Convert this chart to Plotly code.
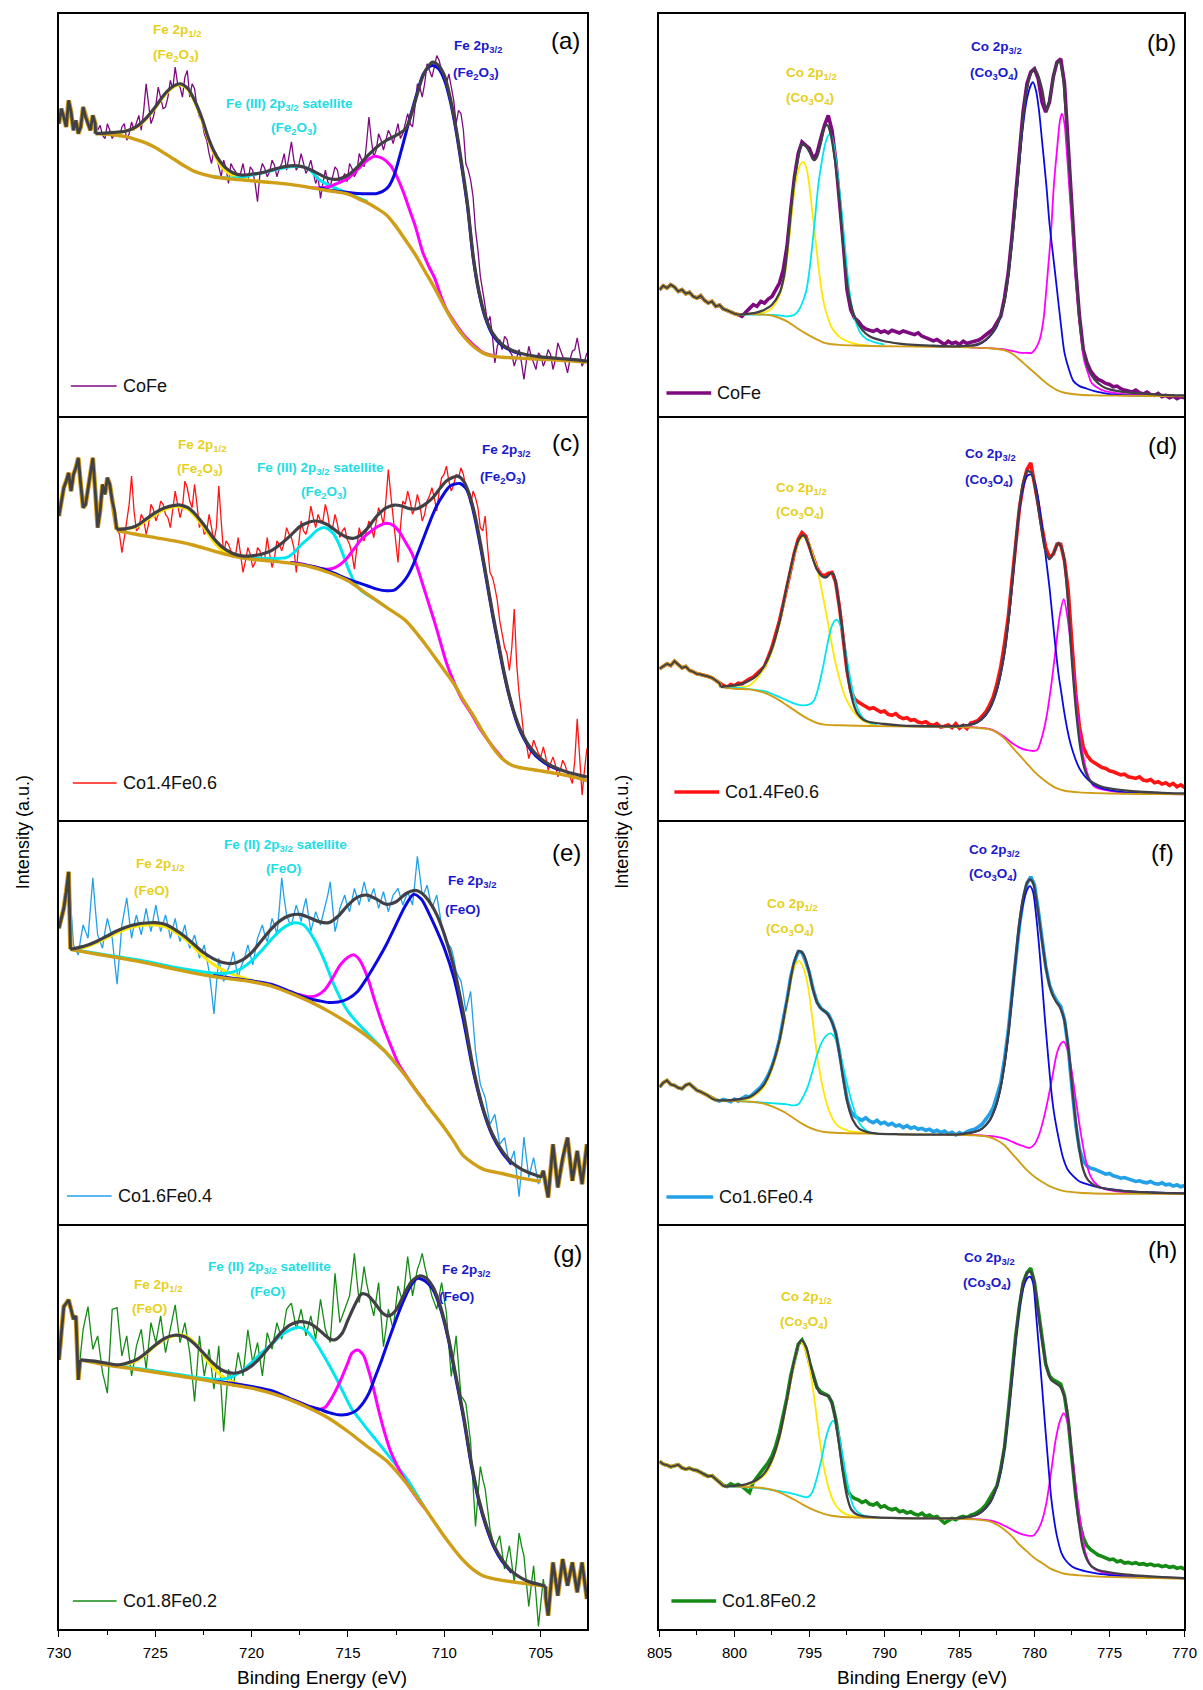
import numpy as np
import plotly.graph_objects as go

W, H = 1203, 1690

# ---------------- energy axes ----------------
FE_RANGE = [730.0, 702.6]
CO_RANGE = [805.0, 770.0]
FE_TICKS = [730, 725, 720, 715, 710, 705]
CO_TICKS = [805, 800, 795, 790, 785, 780, 775, 770]

# ---------------- raw spectra (intensity, a.u.) ----------------
# Fe 2p : 730 -> 702.6 eV; *_raw on the main grid, *_mid on the points halfway between
a_raw = [880, 900, 950, 860, 850, 930, 880, 905, 860, 845, 880, 835, 855, 870, 830, 885,
         880, 860, 1000, 880, 935, 960, 930, 1010, 1050, 990, 1020, 960, 985, 900, 850, 790,
         800, 750, 770, 700, 745, 710, 760, 705, 740, 645, 760, 720, 770, 720, 760, 740,
         825, 740, 790, 730, 770, 700, 655, 740, 690, 750, 700, 730, 760, 720, 790, 750,
         900, 780, 850, 800, 860, 820, 880, 850, 910, 870, 1000, 960, 1060, 1020, 1085, 1040,
         1000, 990, 880, 910, 760, 710, 560, 420, 330, 300, 160, 230, 240, 195, 150, 200,
         110, 210, 160, 190, 150, 200, 140, 220, 180, 130, 195, 235, 150, 190]
a_mid = [925, 870, 915, 890, 870, 900, 860, 880, 875, 835, 860, 850, 840, 880, 850, 860,
         905, 920, 930, 900, 990, 925, 960, 985, 1000, 960, 1040, 1000, 930, 890, 830, 760,
         790, 720, 745, 760, 735, 730, 720, 750, 700, 730, 745, 735, 755, 745, 790, 780,
         770, 755, 760, 745, 735, 720, 700, 705, 720, 740, 715, 705, 745, 735, 770, 820,
         830, 800, 830, 830, 845, 850, 835, 880, 880, 930, 990, 1000, 1040, 1050, 1070, 1010,
         1030, 950, 920, 860, 740, 660, 500, 380, 280, 240, 210, 200, 230, 185, 175, 160,
         165, 180, 140, 180, 170, 185, 170, 200, 160, 170, 200, 190, 165]
c_raw = [915, 1000, 1045, 1040, 1090, 940, 1000, 1090, 880, 1010, 1030, 960, 875, 805, 900, 1035,
         870, 920, 860, 950, 900, 960, 920, 880, 990, 910, 1020, 960, 1010, 880, 860, 920,
         840, 1005, 800, 830, 790, 850, 745, 820, 760, 820, 780, 850, 760, 840, 810, 880,
         850, 745, 900, 860, 945, 880, 900, 950, 870, 920, 850, 880, 830, 755, 880, 840,
         900, 850, 940, 890, 1055, 910, 775, 960, 990, 920, 980, 900, 960, 1000, 930, 1030,
         1065, 990, 1040, 1060, 1000, 950, 970, 880, 915, 745, 700, 600, 520, 450, 635, 380,
         250, 185, 240, 200, 220, 150, 190, 130, 180, 140, 110, 305, 75, 215]
c_mid = [960, 1020, 990, 1060, 1010, 950, 1040, 990, 930, 980, 1010, 930, 860, 850, 950, 930,
         880, 905, 890, 935, 920, 950, 910, 940, 950, 940, 1000, 940, 950, 900, 870, 880,
         880, 900, 840, 810, 800, 800, 780, 800, 775, 810, 790, 800, 790, 830, 835, 860,
         820, 830, 870, 890, 910, 920, 900, 920, 880, 890, 870, 845, 800, 820, 850, 870,
         880, 900, 920, 960, 980, 860, 880, 950, 960, 940, 950, 920, 975, 970, 990, 1040,
         1020, 1010, 1030, 1040, 980, 990, 940, 870, 820, 730, 660, 560, 500, 520, 470, 320,
         230, 210, 220, 190, 190, 170, 165, 150, 165, 130, 180, 190, 150]
e_raw = [890, 950, 1060, 840, 810, 900, 860, 1042, 870, 830, 920, 860, 722, 900, 982, 860,
         930, 870, 950, 880, 960, 880, 930, 860, 920, 850, 900, 830, 870, 800, 840, 760,
         632, 800, 730, 770, 820, 740, 790, 840, 780, 860, 900, 850, 920, 870, 1042, 930,
         900, 960, 910, 980, 880, 940, 900, 960, 1030, 880, 950, 990, 940, 1010, 960, 1030,
         970, 1010, 950, 1000, 940, 990, 1010, 960, 1000, 960, 1107, 990, 1020, 950, 990, 900,
         852, 830, 760, 732, 640, 700, 520, 420, 380, 300, 330, 240, 260, 180, 220, 82,
         262, 140, 200, 120, 160, 80, 240, 110, 200, 260, 130, 220, 120, 240]
e_mid = [920, 1000, 950, 825, 860, 880, 950, 950, 850, 880, 890, 790, 810, 940, 920, 900,
         900, 910, 910, 920, 920, 905, 900, 890, 880, 875, 860, 850, 840, 820, 800, 700,
         720, 760, 750, 790, 780, 770, 810, 810, 820, 880, 870, 880, 900, 950, 980, 910,
         930, 935, 950, 930, 910, 920, 930, 990, 960, 910, 970, 960, 975, 985, 995, 1000,
         990, 980, 975, 970, 965, 1000, 985, 980, 980, 1030, 1050, 1000, 985, 970, 945, 880,
         840, 800, 745, 690, 670, 610, 470, 400, 340, 315, 285, 250, 220, 200, 150, 170,
         200, 170, 160, 140, 120, 160, 175, 155, 230, 195, 175, 170, 180]
g_raw = [808, 968, 988, 930, 748, 900, 968, 840, 880, 770, 708, 960, 965, 820, 880, 760,
         850, 900, 780, 920, 860, 940, 830, 900, 973, 860, 920, 830, 683, 880, 760, 840,
         720, 850, 593, 780, 728, 830, 760, 898, 800, 860, 760, 890, 840, 920, 870, 960,
         978, 900, 960, 880, 940, 870, 990, 900, 860, 1068, 920, 960, 1000, 1128, 980, 1088,
         1000, 940, 1040, 848, 960, 900, 1030, 980, 1118, 1000, 1080, 1128, 1060, 1000, 960, 1040,
         948, 758, 880, 700, 678, 560, 308, 488, 420, 300, 240, 280, 180, 250, 140, 288,
         220, 68, 190, 8, 150, 40, 200, 100, 210, 130, 200, 110, 200, 90]
g_mid = [890, 978, 960, 940, 830, 935, 900, 860, 825, 740, 835, 962, 890, 850, 820, 800,
         875, 840, 850, 890, 900, 885, 865, 935, 915, 890, 875, 760, 780, 820, 800, 780,
         785, 720, 690, 755, 780, 795, 830, 850, 830, 810, 825, 865, 880, 895, 915, 970,
         940, 930, 920, 910, 905, 930, 945, 880, 960, 990, 940, 980, 1060, 1050, 1030, 1040,
         970, 990, 940, 900, 930, 965, 1005, 1050, 1060, 1040, 1100, 1090, 1030, 980, 1000, 995,
         850, 820, 790, 690, 620, 430, 400, 450, 360, 270, 260, 230, 215, 195, 210, 250,
         140, 130, 100, 80, 95, 120, 150, 155, 170, 165, 155, 155, 145]

# Co 2p : 805 -> 770 eV, evenly spaced
b_raw = [380, 392, 385, 395, 388, 375, 380, 368, 372, 360, 355, 362, 348, 340, 345, 330,
         334, 322, 318, 312, 308, 305, 300, 312, 322, 335, 330, 345, 340, 352, 360, 378,
         400, 440, 510, 620, 720, 790, 825, 815, 805, 775, 790, 835, 875, 905, 860, 770,
         650, 520, 380, 320, 295, 285, 270, 262, 258, 255, 260, 252, 256, 250, 258, 254,
         250, 256, 252, 248, 245, 250, 240, 236, 232, 226, 230, 222, 215, 225, 218, 222,
         215, 225, 218, 222, 226, 228, 235, 245, 255, 262, 282, 300, 355, 430, 540, 660,
         780, 920, 1000, 1035, 1045, 1015, 945, 915, 945, 1020, 1065, 1075, 1000, 800, 610, 440,
         300, 200, 160, 135, 120, 110, 105, 98, 95, 88, 90, 82, 78, 75, 72, 78,
         70, 66, 72, 64, 62, 68, 58, 62, 55, 60, 52, 58, 55]
d_raw = [455, 462, 470, 465, 478, 468, 458, 462, 450, 446, 440, 438, 436, 432, 428, 420,
         412, 405, 400, 408, 404, 412, 410, 418, 425, 430, 440, 452, 462, 490, 520, 560,
         600, 650, 705, 760, 805, 845, 865, 855, 820, 790, 758, 740, 735, 742, 745, 715,
         640, 545, 450, 390, 365, 355, 348, 340, 335, 338, 330, 325, 328, 318, 315, 320,
         310, 305, 308, 300, 302, 295, 292, 296, 288, 285, 290, 280, 282, 286, 278, 290,
         276, 285, 275, 292, 295, 300, 312, 325, 345, 370, 410, 460, 530, 610, 720, 840,
         940, 1010, 1055, 1075, 1015, 950, 880, 820, 790, 800, 830, 830, 780, 690, 530, 380,
         280, 220, 195, 180, 172, 165, 158, 155, 148, 145, 140, 136, 138, 130, 128, 125,
         130, 120, 118, 122, 112, 115, 108, 112, 104, 110, 100, 106, 98]
f_raw = [412, 425, 432, 420, 417, 410, 407, 418, 422, 412, 402, 398, 392, 386, 377, 374,
         370, 375, 372, 368, 376, 370, 378, 385, 382, 392, 405, 412, 428, 448, 475, 510,
         555, 610, 675, 745, 790, 820, 818, 790, 755, 705, 668, 650, 640, 632, 610, 575,
         515, 440, 375, 340, 325, 318, 312, 320, 310, 305, 312, 302, 306, 298, 303, 295,
         298, 290, 296, 288, 292, 285, 288, 282, 285, 278, 282, 275, 280, 272, 276, 268,
         275, 270, 278, 282, 285, 292, 300, 315, 330, 350, 385, 425, 495, 580, 690, 800,
         900, 975, 1025, 1045, 1020, 945, 860, 775, 720, 690, 670, 655, 615, 530, 410, 300,
         225, 190, 175, 168, 165, 160, 155, 150, 152, 145, 142, 138, 140, 135, 132, 128,
         130, 126, 124, 128, 122, 120, 124, 118, 120, 114, 118, 112, 116]
h_raw = [503, 495, 492, 487, 490, 493, 484, 480, 483, 478, 476, 470, 462, 458, 460, 450,
         443, 432, 428, 436, 430, 434, 428, 420, 410, 440, 455, 470, 485, 500, 520, 550,
         590, 640, 695, 760, 810, 855, 868, 845, 800, 760, 725, 712, 705, 700, 680, 630,
         560, 480, 420, 400, 392, 388, 380, 385, 375, 372, 378, 366, 370, 362, 358, 362,
         352, 355, 348, 352, 345, 342, 348, 338, 342, 335, 338, 328, 318, 325, 332, 328,
         335, 338, 335, 342, 345, 352, 360, 372, 390, 408, 430, 480, 545, 650, 770, 880,
         970, 1040, 1070, 1083, 1040, 960, 870, 795, 760, 748, 742, 735, 700, 625, 510, 400,
         320, 275, 250, 238, 230, 222, 218, 212, 208, 210, 202, 205, 198, 200, 196, 199,
         194, 196, 192, 195, 190, 192, 187, 190, 185, 188, 182, 185, 180]

# ---------------- fitted curves (energy, intensity) ----------------
a_fit = [(728.1,850),(727.5,852),(726.5,858),(726,870),(725.5,895),(725,930),(724.5,970),(724,995),
         (723.7,1000),(723.3,985),(723,955),(722.6,900),(722.2,830),(721.8,780),(721.4,750),(721,733),
         (720.5,725),(720,728),(719.5,732),(719,740),(718.5,748),(718,753),(717.5,752),(717,743),
         (716.5,728),(716,715),(715.5,713),(715,725),(714.5,750),(714,782),(713.5,810),(713,830),
         (712.5,845),(712,865),(711.7,910),(711.4,970),(711.1,1025),(710.8,1055),(710.6,1065),(710.3,1055),
         (710,1025),(709.7,960),(709.4,870),(709.1,760),(708.8,640),(708.5,480),(708.2,375),(707.9,305),
         (707.5,250),(707,215),(706.5,198),(706,188),(705.5,182),(705,178),(704,173),(703,168),(702.6,165)]
a_bg = [(728.1,850),(727.5,848),(727,845),(726.5,840),(726,832),(725.5,822),(725,808),(724.5,790),
        (724,772),(723.5,753),(723,737),(722.5,727),(722,720),(721,713),(720,708),(719,703),(718,697),
        (717,688),(716,678),(715,668),(714.5,655),(714,642),(713.5,625),(713,605),(712.5,570),(712,528),
        (711.5,485),(711,435),(710.5,385),(710,330),(709.5,280),(709,240),(708.5,210),(708,190),
        (707.5,180),(707,177),(706,174),(705,171),(704,168),(703,164),(702.6,162)]
a_yel = [(728.1,850),(727.5,850),(727,852),(726.5,858),(726,868),(725.5,892),(725,927),(724.5,966),
         (724,992),(723.7,997),(723.3,982),(723,951),(722.6,894),(722.2,824),(721.8,772),(721.4,740),
         (721,724),(720.5,715),(720,709),(719.5,705),(719,703)]
a_cyan = [(722,720),(721,716),(720.5,719),(720,725),(719.5,731),(719,738),(718.5,745),(718,750),
          (717.7,752),(717.3,750),(717,742),(716.5,712),(716,695),(715.5,682),(715,670),(714.5,658),(714,645)]
a_mag = [(717,688),(716.5,686),(716,690),(715.5,702),(715,715),(714.5,742),(714,770),(713.6,782),
         (713.2,775),(712.8,755),(712.5,725),(712.1,670),(711.8,620),(711.5,570),(711.1,490),(710.8,450),
         (710.5,415),(710.2,365),(709.9,322),(709.5,285),(709,245),(708.5,215),(708,192),(707.5,182)]
a_blue = [(716.5,688),(716,680),(715.5,676),(715,673),(714.5,670),(714,669),(713.5,670),(713.2,676),
          (712.9,690),(712.6,725),(712.3,785),(712,850),(711.7,915),(711.4,975),(711.1,1028),(710.8,1050),
          (710.6,1055),(710.3,1045),(710,1012),(709.7,950),(709.4,862),(709.1,752),(708.8,632),(708.5,475),
          (708.2,370),(707.9,300),(707.5,245),(707,212),(706.5,196),(706,186)]

c_fit = [(727,875),(726.5,877),(726,885),(725.5,905),(725,925),(724.5,940),(724,947),(723.7,948),
         (723.3,940),(723,925),(722.5,890),(722,850),(721.5,820),(721,803),(720.5,795),(720,795),
         (719.5,800),(719,810),(718.5,830),(718,855),(717.5,883),(717,897),(716.7,900),(716.4,897),
         (716,887),(715.5,865),(715,850),(714.7,848),(714.4,855),(714,877),(713.5,915),(713,940),
         (712.6,948),(712.2,945),(711.8,937),(711.4,937),(711,950),(710.6,970),(710.2,1000),(709.9,1020),
         (709.6,1030),(709.3,1035),(709,1020),(708.7,980),(708.4,915),(708.1,825),(707.8,725),(707.5,625),
         (707.2,535),(706.9,445),(706.6,370),(706.3,310),(706,265),(705.5,215),(705,185),(704.5,165),
         (704,152),(703.5,142),(703,135),(702.6,130)]
c_bg = [(727,872),(726,860),(725,850),(724,840),(723,827),(722,810),(721,795),(720,785),(719,780),
        (718,773),(717,763),(716,745),(715,720),(714,680),(713,640),(712,600),(711,530),(710,450),
        (709.5,410),(709,360),(708.5,315),(708,265),(707.5,220),(707,185),(706.5,165),(706,157),
        (705,148),(704,138),(703,125),(702.6,118)]
c_yel = [(727,875),(726,882),(725.5,900),(725,920),(724.5,935),(724,943),(723.7,943),(723.3,935),
         (723,918),(722.5,882),(722,840),(721.5,810),(721,795),(720.5,790),(720,785),(719.5,782),(719,780)]
c_cyan = [(721,795),(720,790),(719.5,788),(719,787),(718.5,788),(718.2,790),(717.8,805),(717.4,830),
          (717,850),(716.6,872),(716.2,880),(715.8,865),(715.5,835),(715.2,790),(714.9,745),(714.6,710),
          (714.3,690),(714,678),(713.5,660),(713,640)]
c_mag = [(718,775),(717.5,772),(717,765),(716.5,758),(716.1,755),(715.8,757),(715.5,765),(715.1,785),
         (714.7,815),(714.3,845),(713.9,865),(713.5,882),(713,893),(712.6,885),(712.3,865),(712,835),
         (711.7,805),(711.4,760),(711.1,705),(710.8,650),(710.5,595),(710.2,535),(709.9,475),(709.5,415),
         (709.1,365),(708.6,320),(708.1,270),(707.5,222),(707,187)]
c_blue = [(718,775),(717,765),(716,750),(715,725),(714,705),(713.5,695),(713,690),(712.6,692),
          (712.2,712),(711.9,735),(711.6,770),(711.3,815),(711,860),(710.7,905),(710.4,945),(710.1,975),
          (709.7,1005),(709.2,1013),(708.9,1000),(708.7,975),(708.4,905),(708.1,815),(707.8,718),(707.5,618),
          (707.2,528),(706.9,440),(706.6,365),(706.3,305),(706,260),(705.5,210),(705,180),(704.5,162),(704,150)]

e_fit = [(729.4,827),(729,832),(728.5,840),(728,852),(727.5,867),(727,882),(726.5,894),(726,902),
         (725.5,906),(725,907),(724.5,902),(724,887),(723.5,867),(723,842),(722.5,817),(722,799),
         (721.5,787),(721,784),(720.5,794),(720,817),(719.5,852),(719,887),(718.5,914),(718,929),
         (717.5,932),(717,922),(716.5,910),(716,907),(715.5,927),(715,960),(714.5,984),(714,990),
         (713.5,977),(713,962),(712.5,970),(712,994),(711.5,1004),(711.2,997),(710.8,972),(710.4,932),
         (710,872),(709.5,772),(709,632),(708.5,470),(708,350),(707.5,270),(707,220),(706.5,185),
         (706,165),(705.5,152),(705,142)]
e_bg = [(729.4,827),(729,822),(728,812),(727,802),(726,792),(725,780),(724,767),(723,755),(722,745),
        (721,737),(720,729),(719,717),(718,695),(717,670),(716,640),(715,605),(714,565),(713,515),
        (712,445),(711,365),(710,290),(709.5,248),(709,205),(708,165),(707,152),(706,138),(705,128)]
e_yel = [(729.4,827),(729,828),(728.5,836),(728,848),(727.5,862),(727,876),(726.5,888),(726,896),
         (725.5,900),(725,900),(724.5,895),(724,880),(723.5,860),(723,833),(722.5,805),(722,782),
         (721.5,765),(721,752),(720.5,742),(720,733),(719.5,725),(719,717)]
e_cyan = [(729.4,827),(728,814),(727,805),(726,796),(725,785),(724,773),(723,763),(722,755),
          (721.5,754),(721,758),(720.5,770),(720,792),(719.5,822),(719,855),(718.5,885),(718,903),
          (717.7,907),(717.3,900),(717,880),(716.6,840),(716.2,790),(715.8,730),(715.4,680),(715,640),
          (714.5,605),(714,575),(713.5,545),(713,515),(712.5,480),(712,448)]
e_mag = [(718,697),(717.5,690),(717,684),(716.6,688),(716.2,705),(715.8,740),(715.4,780),(715,803),
         (714.7,810),(714.4,795),(714,745),(713.6,670),(713.2,600),(712.8,540),(712.4,485),(712,448),
         (711.5,405),(711,368)]
e_blue = [(722,748),(721,740),(720,732),(719,722),(718,700),(717.5,688),(717,678),(716.5,672),
          (716,667),(715.5,668),(715,678),(714.5,700),(714,742),(713.5,790),(713,842),(712.5,902),
          (712,960),(711.6,992),(711.2,978),(710.8,935),(710.4,885),(710,830),(709.5,740),(709,610),
          (708.5,460),(708,345),(707.5,265),(707,215),(706.5,180)]

g_fit = [(728.9,808),(728,803),(727.5,798),(727,793),(726.5,798),(726,808),(725.5,828),(725,853),
         (724.5,873),(724,882),(723.5,878),(723,858),(722.5,828),(722,798),(721.5,776),(721,768),
         (720.5,773),(720,790),(719.5,818),(719,853),(718.5,888),(718,913),(717.5,923),(717,918),
         (716.5,898),(716,873),(715.7,868),(715.3,888),(715,928),(714.6,978),(714.3,1006),(714,1003),
         (713.6,978),(713.2,948),(712.9,940),(712.5,958),(712.1,1003),(711.7,1043),(711.3,1060),(711,1056),
         (710.6,1028),(710.2,968),(709.8,878),(709.4,760),(709,640),(708.6,500),(708.2,388),(707.8,308),
         (707.4,248),(707,208),(706.5,173),(706,153),(705.5,140),(705,133),(704.75,128)]
g_bg = [(728.9,808),(728,798),(727,788),(726,780),(725,771),(724,762),(723,753),(722,743),(721,733),
        (720,723),(719,708),(718,688),(717,663),(716,633),(715,593),(714,548),(713,505),(712,440),
        (711,362),(710,278),(709,205),(708.5,178),(708,160),(707,146),(706,138),(705,130),(704.75,126)]
g_yel = [(728.9,808),(728,800),(727,792),(726.5,795),(726,805),(725.5,825),(725,850),(724.5,870),
         (724,880),(723.6,883),(723.2,872),(722.8,848),(722.4,815),(722,785),(721.6,762),(721.2,748),
         (720.8,738),(720.4,731),(720,725)]
g_cyan = [(728.9,808),(728,800),(727,791),(726,783),(725,775),(724,766),(723,757),(722,750),
          (721.5,750),(721,758),(720.5,775),(720,800),(719.5,828),(719,853),(718.5,880),(718,898),
          (717.6,906),(717.2,898),(716.8,872),(716.4,835),(716,795),(715.6,752),(715.2,705),(714.8,660),
          (714.4,630),(714,600),(713.5,565),(713,528),(712.5,492),(712,455),(711.5,410),(711,362)]
g_mag = [(718,690),(717.5,680),(717,668),(716.5,660),(716.2,665),(715.9,688),(715.6,720),(715.3,758),
         (715,800),(714.8,828),(714.5,838),(714.2,822),(714,790),(713.7,728),(713.4,655),(713.1,590),
         (712.8,535),(712.4,485),(712,442),(711.6,408),(711.2,376),(711,362)]
g_blue = [(722,745),(721,738),(720,728),(719,716),(718,692),(717.5,680),(717,668),(716.5,660),
          (716,650),(715.5,643),(715,645),(714.6,655),(714.2,680),(713.9,710),(713.6,755),(713.3,800),
          (713,850),(712.7,898),(712.4,945),(712.1,988),(711.8,1025),(711.4,1053),(711,1045),(710.6,1020),
          (710.2,962),(709.8,872),(709.4,752),(709,632),(708.6,492),(708.2,382),(707.8,302),(707.4,243),
          (707,203),(706.5,170)]

b_fit = [(799.7,305),(799.5,306),(799,308),(798.5,312),(798,320),(797.5,335),(797,370),(796.7,420),
         (796.5,490),(796.2,630),(796,710),(795.7,790),(795.5,820),(795.2,810),(795,795),(794.7,770),
         (794.5,780),(794.2,830),(794,870),(793.8,875),(793.6,850),(793.3,770),(793,650),(792.7,490),
         (792.4,370),(792,300),(791.5,260),(791,240),(790,225),(789,218),(788,214),(787,212),(786,210),
         (785,210),(784,214),(783.5,222),(783,240),(782.5,275),(782,345),(781.7,440),(781.4,570),
         (781.1,720),(780.8,880),(780.5,985),(780.2,1035),(780,1045),(779.8,1030),(779.5,985),(779.2,920),
         (778.9,975),(778.6,1050),(778.35,1068),(778.1,1020),(777.9,900),(777.6,690),(777.3,470),(777,290),
         (776.7,190),(776.4,140),(776,110),(775.5,90),(775,80),(774,72),(773,68),(772,65),(771,63),(770,62)]
b_bg = [(799.7,305),(799,307),(798,305),(797.5,302),(797,295),(796.5,285),(796,270),(795.5,255),
        (795,242),(794.5,230),(794,220),(793.5,216),(793,214),(792,212),(790,210),(788,209),(786,208),
        (784,206),(783,204),(782,198),(781.5,188),(781,170),(780.5,150),(780,130),(779.5,110),(779,92),
        (778.5,78),(778,70),(777,64),(776,62),(774,61),(772,60),(770,59)]
b_yel = [(799.7,305),(799,308),(798,312),(797.5,325),(797,362),(796.7,412),(796.5,470),(796.2,600),
         (796,680),(795.8,730),(795.6,758),(795.4,765),(795.2,745),(795,690),(794.8,610),(794.6,530),
         (794.4,450),(794.2,380),(794,330),(793.8,300),(793.5,265),(793,238),(792.5,225),(792,218),
         (791.5,214),(791,212)]
b_cyan = [(799.7,305),(798,305),(797,303),(796.5,300),(796,305),(795.7,320),(795.4,350),(795.2,380),
          (795,440),(794.8,520),(794.6,610),(794.4,700),(794.2,760),(794,810),(793.8,840),(793.6,850),
          (793.4,820),(793.2,760),(793,680),(792.8,590),(792.6,490),(792.4,400),(792.2,335),(792,295),
          (791.6,250),(791.2,232),(790.5,220),(790,215)]
b_mag = [(785,210),(784,206),(783,204),(782.2,202),(781.5,196),(780.9,190),(780.5,190),(780.2,190),
         (779.9,205),(779.65,230),(779.4,290),(779.27,350),(779.1,440),(778.9,550),(778.7,700),(778.5,800),
         (778.3,890),(778.17,910),(778,880),(777.9,830),(777.7,700),(777.5,570),(777.3,440),(777.1,330),
         (776.9,240),(776.7,170),(776.4,125),(776.2,100),(775.8,85),(775.3,75),(774,66),(772,62),(770,60)]
b_blue = [(785,210),(784,212),(783.5,220),(783,238),(782.5,270),(782,345),(781.7,440),(781.4,570),
          (781.1,715),(780.8,860),(780.5,955),(780.2,1000),(780.1,1005),(779.9,980),(779.7,920),(779.5,830),
          (779.2,690),(779,580),(778.7,460),(778.5,380),(778.2,260),(778,190),(777.7,140),(777.4,105),
          (777,90),(776.5,82),(776,75),(775.5,70),(775,66),(774,63),(772,61),(770,60)]

d_fit = [(800.9,400),(800.5,403),(800,405),(799.5,410),(799,420),(798.5,435),(798,465),(797.5,515),
         (797,595),(796.5,705),(796,805),(795.7,845),(795.4,857),(795.1,835),(794.8,790),(794.5,755),
         (794.2,735),(793.9,730),(793.6,742),(793.4,740),(793.2,700),(793,640),(792.7,530),(792.4,420),
         (792.1,355),(791.8,320),(791.4,302),(791,295),(790,289),(789,285),(788,283),(786,282),(785,283),
         (784,290),(783.5,305),(783,335),(782.5,395),(782,505),(781.7,615),(781.4,755),(781.1,905),
         (780.8,1005),(780.5,1050),(780.2,1045),(779.9,985),(779.6,895),(779.3,815),(779,785),(778.7,805),
         (778.4,835),(778.1,805),(777.8,675),(777.5,475),(777.2,315),(776.9,205),(776.6,145),(776.3,120),
         (776,110),(775.5,100),(775,95),(774,89),(773,85),(772,83),(771,81),(770,80)]
d_bg = [(800.9,400),(800,395),(799,393),(798.5,389),(798,383),(797.5,373),(797,360),(796.5,345),
        (796,330),(795.5,315),(795,302),(794.5,292),(794,287),(793,285),(791,283),(788,281),(785,280),
        (784,278),(783,273),(782.5,263),(782,245),(781.5,220),(781,195),(780.5,170),(780,145),(779.5,125),
        (779,108),(778.5,95),(778,88),(777,83),(776,81),(774,79),(772,78),(770,77)]
d_yel = [(800.9,400),(799,405),(798,458),(797.5,508),(797,588),(796.5,698),(796,798),(795.7,838),
         (795.4,853),(795.1,840),(794.8,800),(794.5,758),(794.2,695),(793.9,625),(793.6,550),(793.3,480),
         (793,425),(792.7,380),(792.4,350),(792,322),(791.5,300),(791,290),(790.5,286)]
d_cyan = [(800.9,400),(800,398),(799,394),(798,388),(797.5,380),(797,370),(796.5,360),(796,350),
          (795.5,345),(795,348),(794.7,360),(794.4,400),(794.1,460),(793.8,530),(793.5,585),(793.2,603),
          (792.9,580),(792.6,510),(792.3,430),(792,365),(791.7,325),(791.4,305),(791,293),(790.5,289)]
d_blue = [(785,283),(784,290),(783.5,303),(783,332),(782.5,390),(782,500),(781.7,610),(781.4,750),
          (781.1,895),(780.8,990),(780.5,1035),(780.24,1040),(780,1020),(779.8,980),(779.6,920),(779.4,850),
          (779.2,775),(779,700),(778.8,610),(778.6,520),(778.4,440),(778.2,380),(778,320),(777.8,270),
          (777.6,230),(777.4,200),(777.2,175),(777,155),(776.7,135),(776.4,120),(776,105),(775.5,95),
          (775,90),(774,84),(772,80),(770,78)]
d_mag = [(785,281),(784,279),(783,274),(782.5,265),(782,250),(781.5,232),(781,218),(780.5,210),
         (780,208),(779.8,212),(779.5,250),(779.2,310),(778.9,400),(778.6,510),(778.3,620),(778.05,665),
         (777.8,610),(777.5,490),(777.2,350),(776.9,235),(776.6,160),(776.3,120),(776,100),(775.5,92),
         (775,88),(774,82),(772,79),(770,77)]

f_fit = [(801.2,372),(800.5,372),(800,374),(799.5,377),(799,382),(798.5,397),(798,422),(797.5,472),
         (797,552),(796.5,672),(796,792),(795.7,822),(795.4,812),(795.1,772),(794.8,712),(794.5,667),
         (794.2,647),(793.9,637),(793.6,617),(793.3,582),(793,512),(792.7,422),(792.4,352),(792.1,312),
         (791.7,287),(791.2,277),(790.5,272),(789,270),(787,269),(785,270),(784,277),(783.5,287),(783,312),
         (782.6,352),(782.3,402),(782,482),(781.7,592),(781.4,732),(781.1,872),(780.8,972),(780.5,1027),
         (780.3,1037),(780.1,1027),(779.8,952),(779.5,852),(779.2,762),(778.9,702),(778.6,672),(778.3,652),
         (778,612),(777.7,512),(777.4,372),(777.1,252),(776.8,172),(776.5,137),(776.2,122),(775.8,112),
         (775,104),(774,99),(773,96),(772,94),(771,93),(770,92)]
f_bg = [(801.2,372),(800,370),(799,368),(798.5,366),(798,362),(797.5,354),(797,344),(796.5,332),
        (796,317),(795.5,302),(795,290),(794.5,282),(794,277),(793,274),(791,272),(789,270),(786,269),
        (784,267),(783,262),(782.5,252),(782,237),(781.5,212),(781,187),(780.5,162),(780,142),(779.5,127),
        (779,114),(778.5,105),(778,99),(777,94),(776,92),(774,91),(772,91),(770,90)]
f_yel = [(801.2,372),(799,378),(798,415),(797.5,465),(797,545),(796.5,660),(796.2,740),(796,775),
         (795.7,792),(795.4,770),(795.1,715),(794.8,615),(794.5,510),(794.2,430),(793.9,370),(793.6,330),
         (793.3,305),(793,292),(792.5,282),(792,277),(791,273)]
f_cyan = [(801,372),(800,371),(799,368),(798,365),(797,362),(796.5,360),(796,357),(795.7,362),
          (795.4,385),(795.1,415),(794.8,460),(794.5,508),(794.2,545),(793.9,566),(793.6,574),(793.3,560),
          (793,520),(792.7,462),(792.4,405),(792.1,355),(791.8,315),(791.5,293),(791.1,278),(790.5,272)]
f_blue = [(785,270),(784,277),(783.5,287),(783,310),(782.6,350),(782.3,400),(782,478),(781.7,588),
          (781.4,725),(781.1,862),(780.8,955),(780.5,1005),(780.3,1017),(780.1,1000),(779.9,932),(779.7,840),
          (779.5,730),(779.3,615),(779.1,510),(778.9,410),(778.7,335),(778.4,260),(778.1,200),(777.8,165),
          (777.4,143),(777,128),(776.5,120),(776,113),(775.3,107),(774,100),(772,95),(770,92)]
f_mag = [(785,270),(784,268),(783,265),(782,257),(781.5,248),(781,238),(780.6,232),(780.3,229),
         (780,240),(779.7,268),(779.4,315),(779.1,375),(778.8,445),(778.5,515),(778.2,545),(778.05,549),
         (777.8,525),(777.5,455),(777.2,360),(776.9,270),(776.6,195),(776.3,148),(776,125),(775.5,108),
         (775,102),(774,96),(772,93),(770,91)]

h_fit = [(800.7,428),(800,430),(799.5,432),(799,438),(798.5,448),(798,468),(797.5,508),(797,578),
         (796.5,688),(796,808),(795.7,858),(795.5,866),(795.2,843),(794.9,788),(794.6,738),(794.3,708),
         (794,703),(793.7,698),(793.4,658),(793.1,578),(792.8,478),(792.5,398),(792.2,358),(791.8,343),
         (791.3,338),(790.5,335),(789,333),(787,332),(785,333),(784,340),(783.5,353),(783,378),(782.6,418),
         (782.3,468),(782,548),(781.7,668),(781.4,808),(781.1,938),(780.8,1028),(780.5,1068),(780.3,1073),
         (780.1,1058),(779.8,968),(779.5,868),(779.2,788),(778.9,748),(778.6,738),(778.3,728),(778,698),
         (777.7,608),(777.4,468),(777.1,338),(776.8,248),(776.5,208),(776.2,188),(775.8,178),(775,170),
         (774,164),(773,160),(772,157),(771,155),(770,153)]
h_bg = [(800.7,428),(800,428),(799,426),(798,423),(797.5,418),(797,410),(796.5,400),(796,388),
        (795.5,375),(795,363),(794.5,353),(794,345),(793.5,340),(793,337),(792,335),(790,333),(787,332),
        (785,331),(784,329),(783,323),(782.5,313),(782,298),(781.5,278),(781,253),(780.5,233),(780,213),
        (779.5,198),(779,183),(778.5,173),(778,166),(777,161),(776,158),(774,155),(772,153),(770,151)]
h_yel = [(800.7,428),(799,434),(798,462),(797.5,502),(797,572),(796.5,682),(796,800),(795.8,845),
         (795.57,863),(795.3,840),(795.1,808),(794.9,760),(794.7,700),(794.5,630),(794.3,560),(794.1,500),
         (793.9,455),(793.6,405),(793.3,375),(793,358),(792.6,345),(792.2,340),(791.7,337),(791,335)]
h_cyan = [(800.7,428),(800,427),(799,425),(798,421),(797,414),(796.5,410),(796,405),(795.5,398),
          (795.1,396),(794.8,412),(794.5,455),(794.2,510),(793.9,575),(793.6,615),(793.45,625),(793.2,610),
          (792.9,550),(792.6,470),(792.3,400),(792,362),(791.6,345),(791.2,338),(790.5,335)]
h_blue = [(785,333),(784,340),(783.5,352),(783,376),(782.6,414),(782.3,462),(782,540),(781.7,658),
          (781.4,795),(781.1,925),(780.8,1015),(780.5,1052),(780.3,1058),(780.1,1040),(779.9,948),(779.7,840),
          (779.5,730),(779.3,615),(779.1,505),(778.9,400),(778.7,330),(778.5,278),(778.2,228),(777.9,205),
          (777.5,188),(777,178),(776.5,172),(775.8,166),(775,162),(774,158),(772,155),(770,152)]
h_mag = [(785,332),(784,330),(783,326),(782.5,320),(782,310),(781.5,298),(781,287),(780.5,281),
         (780.1,280),(779.8,295),(779.5,325),(779.2,380),(778.9,468),(778.6,565),(778.3,625),(778.05,648),
         (777.8,620),(777.5,530),(777.2,410),(776.9,310),(776.6,228),(776.3,195),(776,180),(775.5,170),
         (775,166),(774,160),(772,156),(770,153)]

# ---------------- sample names & peak labels ----------------
SAMPLES = ["CoFe", "Co1.4Fe0.6", "Co1.6Fe0.4", "Co1.8Fe0.2"]
PANEL_TAGS = ["(a)", "(b)", "(c)", "(d)", "(e)", "(f)", "(g)", "(h)"]
FE2O3 = "(Fe<sub>2</sub>O<sub>3</sub>)"
FEO = "(FeO)"
CO3O4 = "(Co<sub>3</sub>O<sub>4</sub>)"
FE12 = "Fe 2p<sub>1/2</sub>"
FE32 = "Fe 2p<sub>3/2</sub>"
CO12 = "Co 2p<sub>1/2</sub>"
CO32 = "Co 2p<sub>3/2</sub>"
SAT3 = "Fe (III) 2p<sub>3/2</sub> satellite"
SAT2 = "Fe (II) 2p<sub>3/2</sub> satellite"

# ---------------- styles ----------------
C_DATA = ["#7E0A80", "#FF1414", "#22A0E8", "#158A15"]
C_FIT = "#404046"
C_BG = "#CF9E16"
C_YEL = "#FFE800"
C_CYAN = "#00E6EE"
C_MAG = "#FF00FF"
C_BLUE = "#0A0AE0"
L_YEL = "#E6D01E"
L_CYAN = "#22DCE4"
L_BLUE = "#1A1ACC"
FONT = "Arial, Liberation Sans, Helvetica, sans-serif"

COL_X = [(57, 588), (661, 1189)]
ROW_Y = [(14, 416), (418, 820), (822, 1224), (1226, 1629)]

panels = [
    dict(raw=a_raw, mid=a_mid, s=0, col=0, row=0, fit=a_fit, bg=a_bg, comps=[a_yel, a_cyan, a_mag, a_blue],
         lo=None, hi=728.1,
         labels=[(FE12, L_YEL, 176, 31), (FE2O3, L_YEL, 175, 55), (SAT3, L_CYAN, 289, 104),
                 (FE2O3, L_CYAN, 293, 129), (FE32, L_BLUE, 478, 47), (FE2O3, L_BLUE, 476, 73)],
         leg=(69, 115, 386), tag=(583, 40)),
    dict(raw=b_raw, mid=None, s=0, col=1, row=0, fit=b_fit, bg=b_bg, comps=[b_yel, b_cyan, b_mag, b_blue],
         lo=None, hi=799.7,
         labels=[(CO32, L_BLUE, 1000, 48), (CO3O4, L_BLUE, 997, 73), (CO12, L_YEL, 814, 73),
                 (CO3O4, L_YEL, 812, 99)],
         leg=(668, 713, 393), tag=(1182, 43)),
    dict(raw=c_raw, mid=c_mid, s=1, col=0, row=1, fit=c_fit, bg=c_bg, comps=[c_yel, c_cyan, c_mag, c_blue],
         lo=None, hi=727.0,
         labels=[(FE12, L_YEL, 201, 445), (FE2O3, L_YEL, 199, 470), (SAT3, L_CYAN, 320, 468),
                 (FE2O3, L_CYAN, 324, 493), (FE32, L_BLUE, 507, 450), (FE2O3, L_BLUE, 504, 478)],
         leg=(71, 115, 783), tag=(583, 443)),
    dict(raw=d_raw, mid=None, s=1, col=1, row=1, fit=d_fit, bg=d_bg, comps=[d_yel, d_cyan, d_mag, d_blue],
         lo=None, hi=800.9,
         labels=[(CO32, L_BLUE, 994, 455), (CO3O4, L_BLUE, 992, 480), (CO12, L_YEL, 804, 489),
                 (CO3O4, L_YEL, 802, 513)],
         leg=(676, 721, 792), tag=(1183, 445)),
    dict(raw=e_raw, mid=e_mid, s=2, col=0, row=2, fit=e_fit, bg=e_bg, comps=[e_yel, e_cyan, e_mag, e_blue],
         lo=705.0, hi=729.4,
         labels=[(SAT2, L_CYAN, 285, 845), (FEO, L_CYAN, 283, 868), (FE12, L_YEL, 159, 865),
                 (FEO, L_YEL, 150, 890), (FE32, L_BLUE, 472, 882), (FEO, L_BLUE, 463, 909)],
         leg=(65, 110, 1196), tag=(584, 853)),
    dict(raw=f_raw, mid=None, s=2, col=1, row=2, fit=f_fit, bg=f_bg, comps=[f_yel, f_cyan, f_mag, f_blue],
         lo=None, hi=801.2,
         labels=[(CO32, L_BLUE, 998, 850), (CO3O4, L_BLUE, 996, 874), (CO12, L_YEL, 795, 905),
                 (CO3O4, L_YEL, 792, 929)],
         leg=(668, 715, 1197), tag=(1180, 853)),
    dict(raw=g_raw, mid=g_mid, s=3, col=0, row=3, fit=g_fit, bg=g_bg, comps=[g_yel, g_cyan, g_mag, g_blue],
         lo=704.75, hi=728.9,
         labels=[(FE12, L_YEL, 157, 1285), (FEO, L_YEL, 148, 1308), (SAT2, L_CYAN, 269, 1267),
                 (FEO, L_CYAN, 267, 1291), (FE32, L_BLUE, 466, 1270), (FEO, L_BLUE, 457, 1296)],
         leg=(71, 115, 1601), tag=(585, 1253)),
    dict(raw=h_raw, mid=None, s=3, col=1, row=3, fit=h_fit, bg=h_bg, comps=[h_yel, h_cyan, h_mag, h_blue],
         lo=None, hi=800.7,
         labels=[(CO32, L_BLUE, 993, 1258), (CO3O4, L_BLUE, 990, 1283), (CO12, L_YEL, 809, 1297),
                 (CO3O4, L_YEL, 806, 1322)],
         leg=(673, 718, 1601), tag=(1183, 1249)),
]
COMP_COLORS = [C_YEL, C_CYAN, C_MAG, C_BLUE]

# the captured page comes out slightly squeezed horizontally, so target pixel
# positions are mapped back before being handed to plotly
SQ_OFF, SQ_K = 10.8, 0.984


def px_x(v):
    return ((v - SQ_OFF) / SQ_K) / W


def px_y(v):
    return 1 - v / H


def split(pairs):
    return [p[0] for p in pairs], [p[1] for p in pairs]


def merged(raw, mid):
    if mid is None:
        return list(raw)
    out = []
    for k, v in enumerate(raw):
        out.append(v)
        if k < len(mid) and k < len(raw) - 1:
            out.append(mid[k])
    return out


fig = go.Figure()
annotations = []
shapes = []
layout_axes = {}

for i, p in enumerate(panels):
    n = i + 1
    xref = "x" if n == 1 else f"x{n}"
    yref = "y" if n == 1 else f"y{n}"
    left = p["col"] == 0
    rng = FE_RANGE if left else CO_RANGE
    vals = merged(p["raw"], p["mid"])
    raw_x = np.linspace(rng[0], rng[1], len(vals))
    raw_y = np.array(vals, dtype=float)
    color = C_DATA[p["s"]]

    w_raw = 1.3 if left else 3.6
    w_comp = 3.0 if left else 1.8
    w_bg = 3.4 if left else 1.9
    w_fit = 3.2 if left else 2.3

    fig.add_trace(go.Scatter(x=raw_x, y=raw_y, mode="lines", line=dict(color=color, width=w_raw),
                             xaxis=xref, yaxis=yref, hoverinfo="skip", showlegend=False))
    for comp, cc in zip(p["comps"], COMP_COLORS):
        cx, cy = split(comp)
        fig.add_trace(go.Scatter(x=cx, y=cy, mode="lines",
                                 line=dict(color=cc, width=w_comp, shape="spline", smoothing=0.8),
                                 xaxis=xref, yaxis=yref, hoverinfo="skip", showlegend=False))
    bx, by = split(p["bg"])
    fig.add_trace(go.Scatter(x=bx, y=by, mode="lines",
                             line=dict(color=C_BG, width=w_bg, shape="spline", smoothing=0.8),
                             xaxis=xref, yaxis=yref, hoverinfo="skip", showlegend=False))
    fx, fy = split(p["fit"])
    edges = []
    m = raw_x > p["hi"]
    edges.append((list(raw_x[m]) + [fx[0]], list(raw_y[m]) + [fy[0]]))
    if p["lo"] is not None:
        m2 = raw_x < p["lo"]
        edges.append(([fx[-1]] + list(raw_x[m2]), [fy[-1]] + list(raw_y[m2])))
    for ex, ey in edges:
        fig.add_trace(go.Scatter(x=ex, y=ey, mode="lines", line=dict(color=C_BG, width=w_fit + 1.4),
                                 xaxis=xref, yaxis=yref, hoverinfo="skip", showlegend=False))
        fig.add_trace(go.Scatter(x=ex, y=ey, mode="lines", line=dict(color=C_FIT, width=w_fit - 0.4),
                                 xaxis=xref, yaxis=yref, hoverinfo="skip", showlegend=False))
    fig.add_trace(go.Scatter(x=fx, y=fy, mode="lines",
                             line=dict(color=C_FIT, width=w_fit, shape="spline", smoothing=0.8),
                             xaxis=xref, yaxis=yref, hoverinfo="skip", showlegend=False))

    x0, x1 = COL_X[p["col"]]
    y0, y1 = ROW_Y[p["row"]]
    bottom = p["row"] == 3
    xa = dict(domain=[px_x(x0), px_x(x1)], range=rng, anchor=yref, showgrid=False, zeroline=False,
              showline=True, linecolor="black", linewidth=1.6, mirror=True,
              showticklabels=bottom, ticks="outside" if bottom else "",
              tickmode="array", tickvals=FE_TICKS if left else CO_TICKS,
              ticklen=6, tickwidth=1.3, tickcolor="black", ticklabeloverflow="allow",
              tickfont=dict(size=15, color="black", family=FONT), ticklabelstandoff=3)
    if bottom:
        xa["minor"] = dict(tickmode="array",
                           tickvals=[v - 2.5 for v in (FE_TICKS if left else CO_TICKS)],
                           ticks="outside", ticklen=4, tickwidth=1.1, tickcolor="black")
    ya = dict(domain=[px_y(y1), px_y(y0)], range=[0, 1210], anchor=xref, showgrid=False,
              zeroline=False, showline=True, linecolor="black", linewidth=1.6, mirror=True,
              showticklabels=False, ticks="")
    layout_axes["xaxis" if n == 1 else f"xaxis{n}"] = xa
    layout_axes["yaxis" if n == 1 else f"yaxis{n}"] = ya

    for txt, col, lx, ly in p["labels"]:
        annotations.append(dict(text=f"<b>{txt}</b>", x=px_x(lx), y=px_y(ly), xref="paper", yref="paper",
                                showarrow=False, xanchor="center", yanchor="middle",
                                font=dict(size=13.5, color=col, family=FONT)))
    tx, ty = p["tag"]
    annotations.append(dict(text=PANEL_TAGS[i], x=px_x(tx), y=px_y(ty), xref="paper", yref="paper",
                            showarrow=False, xanchor="right", yanchor="middle",
                            font=dict(size=24, color="black", family=FONT)))
    lx0, lx1, ly = p["leg"]
    shapes.append(dict(type="line", xref="paper", yref="paper", x0=px_x(lx0), x1=px_x(lx1),
                       y0=px_y(ly), y1=px_y(ly), line=dict(color=color, width=1.5 if left else 3.4)))
    annotations.append(dict(text=SAMPLES[p["s"]], x=px_x(lx1 + 4), y=px_y(ly), xref="paper", yref="paper",
                            showarrow=False, xanchor="left", yanchor="middle",
                            font=dict(size=18, color="#111111", family=FONT)))

for cx in (322, 925):
    annotations.append(dict(text="Binding Energy (eV)", x=px_x(cx), y=px_y(1677), xref="paper", yref="paper",
                            showarrow=False, xanchor="center", yanchor="middle",
                            font=dict(size=19, color="black", family=FONT)))
for cx in (21, 623):
    annotations.append(dict(text="Intensity (a.u.)", x=px_x(cx), y=px_y(832), xref="paper", yref="paper",
                            showarrow=False, xanchor="center", yanchor="middle", textangle=-90,
                            font=dict(size=18, color="black", family=FONT)))

fig.update_layout(width=W, height=H, autosize=False, margin=dict(l=0, r=0, t=0, b=0, pad=0),
                  paper_bgcolor="white", plot_bgcolor="white", showlegend=False,
                  font=dict(family=FONT, color="black"),
                  annotations=annotations, shapes=shapes, **layout_axes)

fig.write_html("out.html")
